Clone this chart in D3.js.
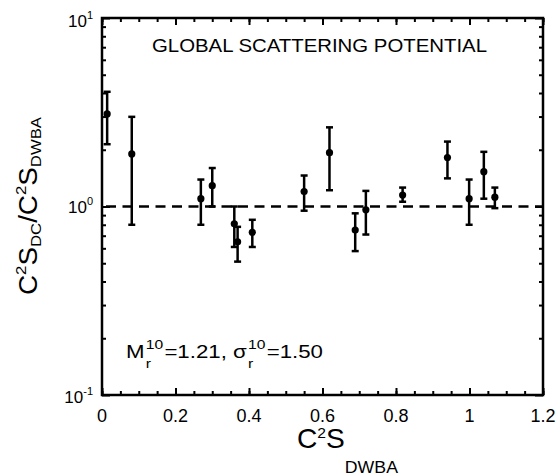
<!DOCTYPE html>
<html>
<head>
<meta charset="utf-8">
<script src="https://cdn.jsdelivr.net/npm/d3@7"></script>
<style>
  body { margin: 0; background: #fff; }
  svg { display: block; }
  text { font-family: "Liberation Sans", Arial, Helvetica, sans-serif; fill: #000; }
</style>
</head>
<body>
<div class="chart"></div>
<script>
// data
var xVals = [0.014, 0.081, 0.269, 0.300, 0.360, 0.369, 0.409, 0.550, 0.619, 0.689, 0.718, 0.818, 0.940, 0.999, 1.039, 1.069];
var yVals = [3.10, 1.90, 1.10, 1.29, 0.81, 0.65, 0.73, 1.20, 1.93, 0.75, 0.96, 1.15, 1.82, 1.10, 1.53, 1.12];
var yLow  = [2.14, 0.80, 0.80, 1.00, 0.61, 0.51, 0.61, 0.95, 1.22, 0.58, 0.71, 1.06, 1.41, 0.80, 1.10, 0.98];
var yHigh = [4.06, 2.99, 1.39, 1.60, 1.00, 0.78, 0.85, 1.46, 2.63, 0.92, 1.21, 1.26, 2.21, 1.39, 1.95, 1.26];
var xTicks = [0, 0.2, 0.4, 0.6, 0.8, 1, 1.2];
var xTickLabels = ['0', '0.2', '0.4', '0.6', '0.8', '1', '1.2'];
var yTicks = [0.1, 1, 10];
var yTickExp = ['-1', '0', '1'];

// layout
var W = 558, H = 476;
var pL = 102, pR = 543, pT = 18, pB = 395;
var lineW = 2.5;

var x = d3.scaleLinear().domain([0, 1.2]).range([pL, pR]);
var y = d3.scaleLog().domain([0.1, 10]).range([pB, pT]);

var svg = d3.select('.chart').append('svg')
	.attr('width', W)
	.attr('height', H);

// pieces of text laid one after another (sub/sup)
function richText(g, x0, y0, parts, anchor, fitW) {
	var t = g.append('g');
	var cx = 0;
	parts.forEach(function(p) {
		if (p.stack) {
			var w = 0;
			p.stack.forEach(function(q) {
				var el = t.append('text').attr('x', cx + (q.dx || 0)).attr('y', q.dy || 0)
					.style('font-size', q.size + 'px').text(q.t);
				w = Math.max(w, el.node().getComputedTextLength() + (q.dx || 0));
			});
			cx += w;
		} else {
			var el = t.append('text').attr('x', cx + (p.dx || 0)).attr('y', p.dy || 0)
				.style('font-size', p.size + 'px').text(p.t);
			cx += el.node().getComputedTextLength() + (p.dx || 0);
		}
	});
	var sx = fitW ? fitW / cx : 1;
	var tw = cx * sx;
	var shift = anchor === 'end' ? -tw : (anchor === 'middle' ? -tw / 2 : 0);
	t.attr('transform', 'translate(' + (x0 + shift) + ',' + y0 + ') scale(' + sx + ',1)');
	return t;
}

// ticks (inward)
var xMinor = d3.range(0, 1.2001, 0.05);
var yMinor = [];
[0.1, 1].forEach(function(d) { for (var k = 2; k <= 9; k++) yMinor.push(d * k); });

var axes = svg.append('g').attr('class', 'axes');

function tickAxis(axisFn, scale, vals, size, tr) {
	axes.append('g')
		.attr('transform', tr)
		.call(axisFn(scale).tickValues(vals).tickSizeInner(-size).tickSizeOuter(0).tickFormat(''))
		.call(function(g) {
			g.select('.domain').remove();
			g.selectAll('line').attr('stroke', '#000').attr('stroke-width', 2);
		});
}

tickAxis(d3.axisBottom, x, xMinor, 4, 'translate(0,' + pB + ')');
tickAxis(d3.axisBottom, x, xTicks, 7, 'translate(0,' + pB + ')');
tickAxis(d3.axisTop, x, xMinor, 4, 'translate(0,' + pT + ')');
tickAxis(d3.axisTop, x, xTicks, 7, 'translate(0,' + pT + ')');
tickAxis(d3.axisLeft, y, yMinor, 4, 'translate(' + pL + ',0)');
tickAxis(d3.axisLeft, y, yTicks, 8, 'translate(' + pL + ',0)');
tickAxis(d3.axisRight, y, yMinor, 4, 'translate(' + pR + ',0)');
tickAxis(d3.axisRight, y, yTicks, 8, 'translate(' + pR + ',0)');

// x tick labels
svg.append('g').selectAll('text')
	.data(xTicks)
	.enter()
	.append('text')
	.attr('x', function(d) { return x(d); })
	.attr('y', pB + 27)
	.attr('text-anchor', 'middle')
	.style('font-size', '18px')
	.text(function(d, i) { return xTickLabels[i]; });

// y tick labels 10^n
var yOff = [8, 6.5, 9];
yTicks.forEach(function(d, i) {
	richText(svg, 93, y(d) + yOff[i], [
		{ t: '10', size: 17 },
		{ t: yTickExp[i], size: 11, dy: -8 }
	], 'end');
});

// reference line at 1
svg.append('line')
	.attr('x1', pL).attr('x2', pR)
	.attr('y1', y(1)).attr('y2', y(1))
	.attr('stroke', '#000')
	.attr('stroke-width', lineW)
	.attr('stroke-dasharray', '10,6.5')
	.attr('stroke-dashoffset', -4);

// error bars
var pts = xVals.map(function(d, i) { return { x: d, y: yVals[i], lo: yLow[i], hi: yHigh[i] }; });
var cap = 3.5;
var eb = svg.append('g').attr('class', 'errbars')
	.attr('stroke', '#000').attr('stroke-width', lineW);
eb.selectAll('.v').data(pts).enter().append('line')
	.attr('x1', function(d) { return x(d.x); })
	.attr('x2', function(d) { return x(d.x); })
	.attr('y1', function(d) { return y(d.lo); })
	.attr('y2', function(d) { return y(d.hi); });
eb.selectAll('.hi').data(pts).enter().append('line')
	.attr('x1', function(d) { return x(d.x) - cap; })
	.attr('x2', function(d) { return x(d.x) + cap; })
	.attr('y1', function(d) { return y(d.hi); })
	.attr('y2', function(d) { return y(d.hi); });
eb.selectAll('.lo').data(pts).enter().append('line')
	.attr('x1', function(d) { return x(d.x) - cap; })
	.attr('x2', function(d) { return x(d.x) + cap; })
	.attr('y1', function(d) { return y(d.lo); })
	.attr('y2', function(d) { return y(d.lo); });

// points
svg.append('g').selectAll('circle')
	.data(pts)
	.enter()
	.append('circle')
	.attr('cx', function(d) { return x(d.x); })
	.attr('cy', function(d) { return y(d.y); })
	.attr('r', 3.6)
	.attr('fill', '#000');

// frame
svg.append('rect')
	.attr('x', pL).attr('y', pT)
	.attr('width', pR - pL).attr('height', pB - pT)
	.attr('fill', 'none')
	.attr('stroke', '#000')
	.attr('stroke-width', lineW);

// title
svg.append('text')
	.attr('x', 152).attr('y', 52)
	.attr('textLength', 335)
	.attr('lengthAdjust', 'spacingAndGlyphs')
	.style('font-size', '17.5px')
	.text('GLOBAL SCATTERING POTENTIAL');

// annotation
richText(svg, 126, 358, [
	{ t: 'M', size: 18.5 },
	{ stack: [{ t: 'r', size: 13, dy: 10, dx: 1 }, { t: '10', size: 13, dy: -9, dx: 1 }] },
	{ t: '=1.21, \u03c3', size: 18.5, dx: 1 },
	{ stack: [{ t: 'r', size: 13, dy: 10, dx: 1 }, { t: '10', size: 13, dy: -9, dx: 1 }] },
	{ t: '=1.50', size: 18.5, dx: 1 }
], 'start', 197);

// x label
richText(svg, 297, 448, [
	{ t: 'C', size: 27 },
	{ t: '2', size: 15, dy: -10 },
	{ t: 'S', size: 27 },
	{ t: 'DWBA', size: 17, dy: 25 }
], 'start', 101);

// y label
var yl = svg.append('g').attr('transform', 'translate(37,206) rotate(-90)');
richText(yl, 0, 0, [
	{ t: 'C', size: 25 },
	{ t: '2', size: 15, dy: -11 },
	{ t: 'S', size: 25 },
	{ t: 'DC', size: 15, dy: 4 },
	{ t: '/C', size: 25 },
	{ t: '2', size: 15, dy: -11 },
	{ t: 'S', size: 25 },
	{ t: 'DWBA', size: 15, dy: 4 }
], 'middle', 178);
</script>
</body>
</html>
